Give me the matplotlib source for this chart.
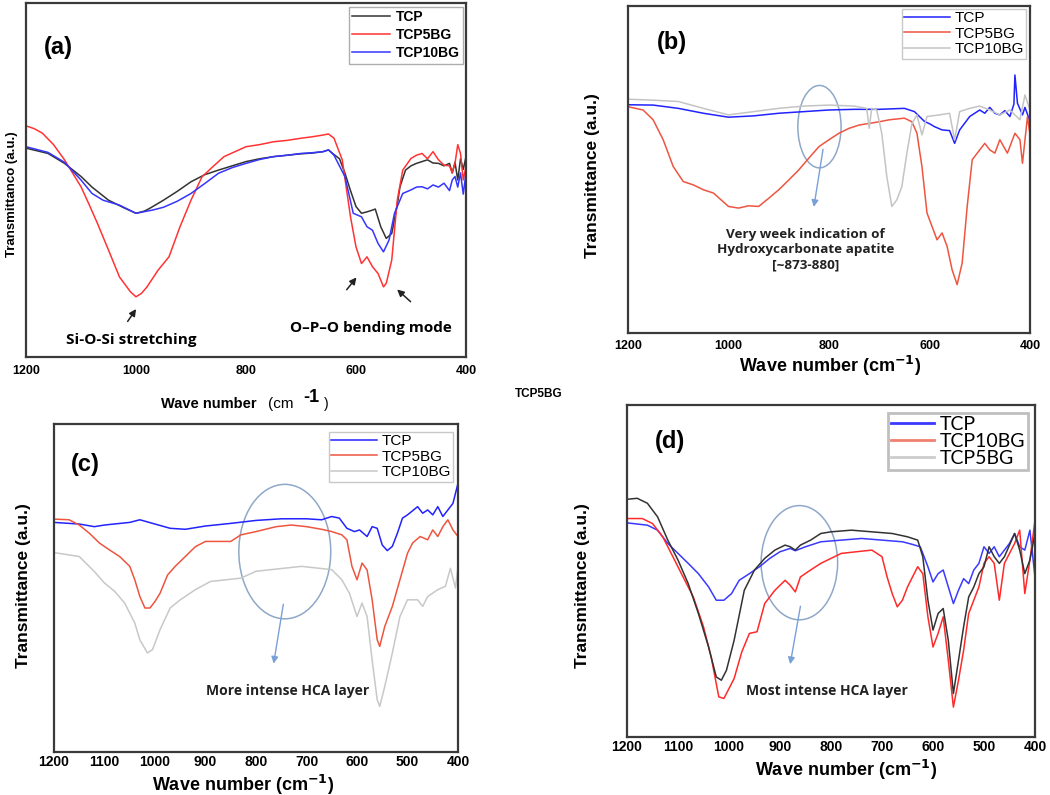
import matplotlib
matplotlib.use('Agg')
import matplotlib.pyplot as plt
from matplotlib.patches import Ellipse

plt.rcParams['font.family'] = ['Liberation Sans', 'DejaVu Sans']

# ---------------- data (wave number, transmittance in a.u. 0..1) ----------------
# panel (a)
wn_a_tcp = [1200, 1160, 1130, 1100, 1080, 1050, 1020, 1000, 985, 975, 950, 925, 900, 875, 850,
            825, 800, 775, 750, 725, 700, 680, 660, 650, 640, 630, 620, 610, 600, 590, 580,
            570, 565, 555, 545, 535, 525, 520, 510, 500, 490, 480, 470, 460, 450, 440, 430,
            425, 420, 415, 410, 405, 400]
t_a_tcp = [0.590, 0.575, 0.547, 0.510, 0.480, 0.443, 0.420, 0.406, 0.412, 0.420, 0.443, 0.468,
           0.495, 0.515, 0.528, 0.540, 0.552, 0.560, 0.566, 0.570, 0.574, 0.576, 0.580, 0.585,
           0.572, 0.560, 0.519, 0.470, 0.425, 0.406, 0.410, 0.415, 0.418, 0.368, 0.335, 0.349,
           0.430, 0.481, 0.528, 0.540, 0.547, 0.552, 0.557, 0.548, 0.547, 0.540, 0.547, 0.520,
           0.550, 0.500, 0.560, 0.530, 0.566]

wn_a_5bg = [1200, 1185, 1170, 1150, 1130, 1100, 1085, 1070, 1050, 1030, 1010, 1000, 990, 980,
            960, 940, 920, 900, 880, 860, 840, 800, 775, 750, 725, 700, 680, 660, 650, 640,
            625, 610, 600, 590, 580, 570, 560, 550, 545, 535, 525, 515, 500, 490, 480, 470,
            460, 450, 440, 430, 425, 420, 415, 410, 405, 400]
t_a_5bg = [0.653, 0.645, 0.632, 0.600, 0.557, 0.481, 0.430, 0.377, 0.302, 0.226, 0.184, 0.170,
           0.180, 0.198, 0.245, 0.283, 0.368, 0.443, 0.509, 0.538, 0.566, 0.594, 0.600, 0.608,
           0.612, 0.618, 0.622, 0.627, 0.630, 0.618, 0.557, 0.396, 0.311, 0.264, 0.283, 0.255,
           0.236, 0.198, 0.208, 0.274, 0.443, 0.528, 0.561, 0.570, 0.575, 0.560, 0.580, 0.557,
           0.542, 0.540, 0.520, 0.547, 0.600, 0.575, 0.500, 0.538]

wn_a_10bg = [1200, 1160, 1130, 1100, 1080, 1060, 1030, 1000, 970, 950, 925, 900, 875, 850, 825,
             800, 775, 750, 725, 700, 680, 660, 650, 640, 620, 605, 590, 580, 570, 560, 550,
             540, 530, 515, 500, 490, 480, 470, 460, 450, 440, 430, 425, 420, 415, 410, 405, 400]
t_a_10bg = [0.594, 0.578, 0.550, 0.500, 0.462, 0.443, 0.429, 0.406, 0.415, 0.423, 0.440, 0.462,
            0.490, 0.519, 0.535, 0.547, 0.558, 0.566, 0.570, 0.575, 0.577, 0.580, 0.585, 0.570,
            0.509, 0.406, 0.396, 0.368, 0.358, 0.321, 0.297, 0.330, 0.406, 0.462, 0.472, 0.480,
            0.481, 0.475, 0.486, 0.480, 0.491, 0.470, 0.500, 0.510, 0.480, 0.520, 0.460, 0.519]

# panel (b)
wn_b_tcp = [1200, 1150, 1100, 1050, 1000, 950, 900, 850, 800, 750, 700, 650, 630, 610, 600, 590,
            575, 560, 550, 540, 520, 500, 490, 480, 470, 460, 450, 440, 432, 430, 425, 415,
            410, 400]
t_b_tcp = [0.698, 0.697, 0.687, 0.672, 0.660, 0.664, 0.672, 0.677, 0.682, 0.684, 0.684, 0.687,
           0.677, 0.647, 0.640, 0.631, 0.621, 0.619, 0.580, 0.621, 0.662, 0.682, 0.672, 0.690,
           0.672, 0.667, 0.680, 0.662, 0.700, 0.789, 0.703, 0.667, 0.690, 0.647]

wn_b_5bg = [1200, 1170, 1150, 1130, 1110, 1090, 1070, 1050, 1030, 1000, 980, 960, 940, 920, 900,
            880, 860, 840, 820, 800, 780, 760, 740, 700, 680, 650, 635, 625, 615, 605, 595,
            585, 575, 565, 555, 545, 535, 525, 515, 505, 490, 480, 470, 460, 445, 430, 420,
            415, 405, 400]
t_b_5bg = [0.692, 0.682, 0.652, 0.591, 0.509, 0.463, 0.453, 0.438, 0.428, 0.387, 0.382, 0.389,
           0.387, 0.412, 0.438, 0.468, 0.499, 0.535, 0.570, 0.591, 0.611, 0.626, 0.636, 0.646,
           0.652, 0.657, 0.646, 0.611, 0.509, 0.367, 0.326, 0.285, 0.306, 0.265, 0.193, 0.148,
           0.214, 0.387, 0.530, 0.550, 0.580, 0.560, 0.550, 0.591, 0.550, 0.611, 0.591, 0.519,
           0.662, 0.606]

wn_b_10bg = [1200, 1150, 1100, 1050, 1000, 950, 900, 850, 800, 750, 725, 720, 715, 705, 695, 685,
             675, 665, 655, 645, 635, 625, 615, 605, 580, 560, 550, 540, 520, 500, 480, 460,
             440, 420, 410, 400]
t_b_10bg = [0.715, 0.712, 0.708, 0.687, 0.667, 0.677, 0.687, 0.694, 0.697, 0.694, 0.687, 0.626,
            0.687, 0.682, 0.611, 0.479, 0.387, 0.407, 0.448, 0.550, 0.640, 0.667, 0.606, 0.662,
            0.667, 0.672, 0.590, 0.677, 0.687, 0.694, 0.682, 0.667, 0.682, 0.652, 0.728, 0.682]

# panel (c)
wn_c_tcp = [1200, 1150, 1120, 1100, 1050, 1030, 1000, 970, 940, 900, 850, 800, 750, 700, 670, 650,
            635, 620, 605, 595, 580, 570, 560, 550, 540, 530, 520, 510, 500, 480, 470, 460,
            450, 440, 430, 420, 410, 400]
t_c_tcp = [0.700, 0.695, 0.687, 0.692, 0.700, 0.708, 0.695, 0.682, 0.679, 0.689, 0.697, 0.706,
           0.711, 0.711, 0.708, 0.718, 0.713, 0.682, 0.672, 0.677, 0.657, 0.687, 0.682, 0.631,
           0.614, 0.627, 0.667, 0.713, 0.723, 0.748, 0.728, 0.738, 0.723, 0.748, 0.718, 0.738,
           0.758, 0.819]

wn_c_5bg = [1200, 1170, 1150, 1130, 1110, 1090, 1070, 1050, 1040, 1030, 1020, 1010, 1000, 990,
            975, 960, 940, 920, 900, 870, 850, 830, 800, 760, 730, 700, 670, 650, 630, 620,
            610, 600, 590, 580, 570, 560, 555, 545, 530, 515, 500, 490, 475, 460, 450, 440,
            430, 420, 410, 400]
t_c_5bg = [0.710, 0.708, 0.692, 0.667, 0.637, 0.616, 0.596, 0.566, 0.525, 0.474, 0.439, 0.439,
           0.459, 0.484, 0.540, 0.566, 0.596, 0.626, 0.642, 0.642, 0.642, 0.662, 0.672, 0.687,
           0.692, 0.687, 0.679, 0.672, 0.662, 0.647, 0.566, 0.525, 0.576, 0.555, 0.464, 0.342,
           0.322, 0.383, 0.444, 0.525, 0.606, 0.637, 0.657, 0.647, 0.677, 0.657, 0.687, 0.708,
           0.677, 0.657]

wn_c_10bg = [1200, 1150, 1120, 1100, 1080, 1060, 1040, 1030, 1015, 1005, 990, 970, 950, 920, 890,
             860, 830, 800, 770, 740, 710, 680, 650, 630, 615, 600, 590, 580, 570, 560, 555,
             545, 530, 515, 500, 480, 470, 460, 440, 425, 415, 405, 400]
t_c_10bg = [0.608, 0.596, 0.550, 0.515, 0.490, 0.454, 0.393, 0.342, 0.302, 0.312, 0.373, 0.439,
            0.464, 0.495, 0.520, 0.525, 0.530, 0.551, 0.556, 0.561, 0.566, 0.561, 0.556, 0.525,
            0.484, 0.413, 0.454, 0.413, 0.280, 0.159, 0.139, 0.200, 0.302, 0.413, 0.464, 0.464,
            0.444, 0.474, 0.495, 0.505, 0.560, 0.500, 0.566]

# panel (d)
wn_d_tcp = [1200, 1160, 1140, 1120, 1100, 1080, 1060, 1040, 1025, 1010, 995, 980, 960, 940, 920,
            900, 880, 870, 850, 820, 780, 740, 700, 660, 640, 625, 610, 600, 590, 580, 570,
            560, 550, 540, 530, 520, 510, 500, 490, 480, 470, 450, 440, 430, 420, 410, 400]
t_d_tcp = [0.645, 0.638, 0.623, 0.583, 0.553, 0.523, 0.492, 0.452, 0.412, 0.412, 0.432, 0.472,
           0.492, 0.513, 0.538, 0.558, 0.568, 0.561, 0.573, 0.588, 0.593, 0.598, 0.593, 0.588,
           0.580, 0.573, 0.513, 0.467, 0.492, 0.503, 0.452, 0.402, 0.442, 0.477, 0.462, 0.503,
           0.523, 0.573, 0.553, 0.573, 0.543, 0.583, 0.613, 0.573, 0.563, 0.623, 0.482]

wn_d_10bg = [1200, 1170, 1150, 1130, 1110, 1090, 1070, 1050, 1035, 1020, 1010, 1000, 990, 975, 960,
             945, 930, 910, 890, 880, 870, 860, 840, 820, 800, 780, 750, 720, 710, 700, 690,
             680, 670, 660, 650, 630, 620, 610, 600, 590, 580, 570, 560, 550, 540, 530, 520,
             510, 500, 490, 480, 470, 460, 440, 430, 420, 410, 400]
t_d_10bg = [0.658, 0.658, 0.643, 0.603, 0.543, 0.482, 0.422, 0.332, 0.241, 0.121, 0.116, 0.146,
            0.176, 0.256, 0.312, 0.317, 0.402, 0.442, 0.472, 0.457, 0.437, 0.482, 0.503, 0.523,
            0.538, 0.553, 0.558, 0.563, 0.553, 0.543, 0.482, 0.432, 0.392, 0.412, 0.452, 0.513,
            0.492, 0.362, 0.271, 0.312, 0.362, 0.231, 0.090, 0.171, 0.261, 0.372, 0.412, 0.452,
            0.523, 0.543, 0.523, 0.412, 0.523, 0.583, 0.623, 0.432, 0.533, 0.653]

wn_d_5bg = [1200, 1180, 1160, 1140, 1120, 1100, 1080, 1060, 1040, 1025, 1015, 1005, 990, 970, 950,
            930, 910, 890, 880, 870, 860, 840, 820, 800, 760, 720, 680, 650, 630, 620, 610,
            600, 590, 580, 570, 560, 550, 540, 530, 520, 510, 500, 490, 480, 470, 460, 440,
            430, 420, 410, 400]
t_d_5bg = [0.716, 0.719, 0.704, 0.663, 0.593, 0.533, 0.462, 0.372, 0.271, 0.181, 0.171, 0.201,
           0.291, 0.442, 0.503, 0.538, 0.563, 0.578, 0.573, 0.563, 0.578, 0.593, 0.613, 0.618,
           0.623, 0.618, 0.613, 0.603, 0.593, 0.543, 0.412, 0.322, 0.372, 0.387, 0.291, 0.131,
           0.231, 0.332, 0.422, 0.452, 0.492, 0.513, 0.573, 0.543, 0.523, 0.543, 0.613, 0.563,
           0.492, 0.533, 0.613]

xticks_ab = [1200, 1000, 800, 600, 400]
xticks_cd = [1200, 1100, 1000, 900, 800, 700, 600, 500, 400]

# ---------------- figure ----------------
W, H = 1050, 795
fig = plt.figure(figsize=(10.5, 7.95), dpi=100)
NOTE_FONT = 'Open Sans'


def box(l, t, r, b):
    return [l / W, (H - b) / H, (r - l) / W, (b - t) / H]


def style_axes(ax, ticks, tick_fs, pad):
    ax.set_xlim(1200, 400)
    ax.set_ylim(0, 1)
    ax.set_yticks([])
    ax.set_xticks(ticks)
    ax.tick_params(axis='x', length=0, pad=pad, labelsize=tick_fs)
    for lab in ax.get_xticklabels():
        lab.set_fontweight('bold')
    for s in ax.spines.values():
        s.set_linewidth(1.6)
        s.set_color('#3a3a3a')


lw = 1.1

# (a)
ax = fig.add_axes(box(26, 3, 466, 357))
ax.plot(wn_a_tcp, t_a_tcp, color='#333333', lw=lw, label='TCP')
ax.plot(wn_a_5bg, t_a_5bg, color='#ff3333', lw=lw, label='TCP5BG')
ax.plot(wn_a_10bg, t_a_10bg, color='#3535ff', lw=lw, label='TCP10BG')
style_axes(ax, xticks_ab, 9, 6)
leg = ax.legend(loc='upper right', bbox_to_anchor=(0.993, 0.99), fancybox=False,
                prop={'weight': 'bold', 'size': 10}, handlelength=2.7, labelspacing=0.3,
                borderpad=0.25, handletextpad=0.4, borderaxespad=0)
leg.get_frame().set_edgecolor('#999999')
ax.text(0.073, 0.873, '(a)', transform=ax.transAxes, fontsize=17, fontweight='bold',
        ha='center', va='center')
ax.annotate('', xy=(997, 0.142), xytext=(1018, 0.094),
            arrowprops=dict(arrowstyle='-|>', color='#222222', lw=1.1))
ax.text(1008, 0.047, 'Si-O-Si stretching', ha='center', va='center', fontsize=11,
        fontweight='bold', family=NOTE_FONT)
ax.annotate('', xy=(596, 0.231), xytext=(620, 0.184),
            arrowprops=dict(arrowstyle='-|>', color='#222222', lw=1.1))
ax.annotate('', xy=(529, 0.196), xytext=(497, 0.151),
            arrowprops=dict(arrowstyle='-|>', color='#222222', lw=1.1))
ax.text(573, 0.082, 'O\u2013P\u2013O bending mode', ha='center', va='center', fontsize=11,
        fontweight='bold', family=NOTE_FONT)
fig.text(12 / W, 1 - 194 / H, 'Transmittanco (a.u.)', rotation=90, ha='center', va='center',
         fontsize=9.5, fontweight='bold')
fig.text(161 / W, 1 - 404 / H, 'Wave number', ha='left', va='center', fontsize=10.5,
         fontweight='bold')
fig.text(268 / W, 1 - 404 / H, '(cm', ha='left', va='center', fontsize=11)
fig.text(303 / W, 1 - 397 / H, '-1', ha='left', va='center', fontsize=13, fontweight='bold')
fig.text(324 / W, 1 - 404 / H, ')', ha='left', va='center', fontsize=10)
fig.text(539 / W, 1 - 394 / H, 'TCP5BG', ha='center', va='center', fontsize=8.5,
         fontweight='bold')

# (b)
ax = fig.add_axes(box(628, 6, 1030, 333))
ax.plot(wn_b_tcp, t_b_tcp, color='#2222ff', lw=lw, label='TCP')
ax.plot(wn_b_5bg, t_b_5bg, color='#ee5540', lw=lw, label='TCP5BG')
ax.plot(wn_b_10bg, t_b_10bg, color='#c4c4c4', lw=lw, label='TCP10BG')
style_axes(ax, xticks_ab, 9, 5)
leg = ax.legend(loc='upper right', bbox_to_anchor=(0.99, 0.991), fancybox=False,
                prop={'size': 11}, handlelength=3.0, labelspacing=0.1, borderpad=0.15,
                handletextpad=0.3, borderaxespad=0)
leg.get_frame().set_edgecolor('#bbbbbb')
ax.text(0.109, 0.887, '(b)', transform=ax.transAxes, fontsize=17, fontweight='bold',
        ha='center', va='center')
ax.add_patch(Ellipse((819, 0.631), 86, 0.252, fill=False, ec='#8fa8c8', lw=1.1))
ax.annotate('', xy=(831, 0.377), xytext=(811, 0.57),
            arrowprops=dict(arrowstyle='-|>', color='#7aa0d8', lw=1.0))
ax.text(847, 0.255, 'Very week indication of\nHydroxycarbonate apatite\n[~873-880]',
        ha='center', va='center', fontsize=9.7, fontweight='bold', family=NOTE_FONT,
        color='#222222', linespacing=1.25)
fig.text(593 / W, 1 - 176 / H, 'Transmittance (a.u.)', rotation=90, ha='center', va='center',
         fontsize=12.5, fontweight='bold')
fig.text(830 / W, 1 - 366 / H, 'Wave number (cm$^{\\mathbf{-1}}$)', ha='center', va='center',
         fontsize=13, fontweight='bold')

# (c)
ax = fig.add_axes(box(54, 424, 458, 752))
ax.plot(wn_c_tcp, t_c_tcp, color='#2222ff', lw=lw, label='TCP')
ax.plot(wn_c_5bg, t_c_5bg, color='#ee5540', lw=lw, label='TCP5BG')
ax.plot(wn_c_10bg, t_c_10bg, color='#c8c8c8', lw=lw, label='TCP10BG')
style_axes(ax, xticks_cd, 10, 2.5)
leg = ax.legend(loc='upper right', bbox_to_anchor=(0.988, 0.976), fancybox=False,
                prop={'size': 11}, handlelength=3.0, labelspacing=0.1, borderpad=0.15,
                handletextpad=0.3, borderaxespad=0)
leg.get_frame().set_edgecolor('#bbbbbb')
ax.text(0.077, 0.875, '(c)', transform=ax.transAxes, fontsize=17, fontweight='bold',
        ha='center', va='center')
ax.add_patch(Ellipse((743, 0.611), 182, 0.41, fill=False, ec='#8fa8c8', lw=1.1))
ax.annotate('', xy=(766, 0.261), xytext=(745, 0.459),
            arrowprops=dict(arrowstyle='-|>', color='#7aa0d8', lw=1.0))
ax.text(738, 0.187, 'More intense HCA layer', ha='center', va='center', fontsize=10,
        fontweight='bold', family=NOTE_FONT, color='#222222')
fig.text(24 / W, 1 - 586 / H, 'Transmittance (a.u.)', rotation=90, ha='center', va='center',
         fontsize=12.5, fontweight='bold')
fig.text(243 / W, 1 - 785 / H, 'Wave number (cm$^{\\mathbf{-1}}$)', ha='center', va='center',
         fontsize=13, fontweight='bold')

# (d)
ax = fig.add_axes(box(627, 405, 1035, 737))
ax.plot(wn_d_tcp, t_d_tcp, color='#3a3aff', lw=lw, label='TCP')
ax.plot(wn_d_10bg, t_d_10bg, color='#ff2a2a', lw=lw, label='TCP10BG')
ax.plot(wn_d_5bg, t_d_5bg, color='#333333', lw=lw, label='TCP5BG')
style_axes(ax, xticks_cd, 10, 2.5)
leg = ax.legend(loc='upper right', bbox_to_anchor=(0.983, 0.976), fancybox=False,
                prop={'size': 14, 'family': 'Lato'}, handlelength=2.2, labelspacing=0.0,
                borderpad=0.15, handletextpad=0.3, borderaxespad=0)
leg.get_frame().set_edgecolor('#b0b0b0')
leg.get_frame().set_linewidth(2)
for h, c in zip(leg.get_lines(), ['#3a3aff', '#f08070', '#cccccc']):
    h.set_color(c)
    h.set_linewidth(2)
ax.text(0.105, 0.889, '(d)', transform=ax.transAxes, fontsize=17, fontweight='bold',
        ha='center', va='center')
ax.add_patch(Ellipse((862, 0.525), 150, 0.344, fill=False, ec='#8fa8c8', lw=1.1))
ax.annotate('', xy=(881, 0.211), xytext=(859, 0.402),
            arrowprops=dict(arrowstyle='-|>', color='#7aa0d8', lw=1.0))
ax.text(808, 0.138, 'Most intense HCA layer', ha='center', va='center', fontsize=10,
        fontweight='bold', family=NOTE_FONT, color='#222222')
fig.text(583 / W, 1 - 586 / H, 'Transmittance (a.u.)', rotation=90, ha='center', va='center',
         fontsize=12.5, fontweight='bold')
fig.text(846 / W, 1 - 770 / H, 'Wave number (cm$^{\\mathbf{-1}}$)', ha='center', va='center',
         fontsize=13, fontweight='bold')

plt.savefig('out.png', dpi=100)
plt.close()
